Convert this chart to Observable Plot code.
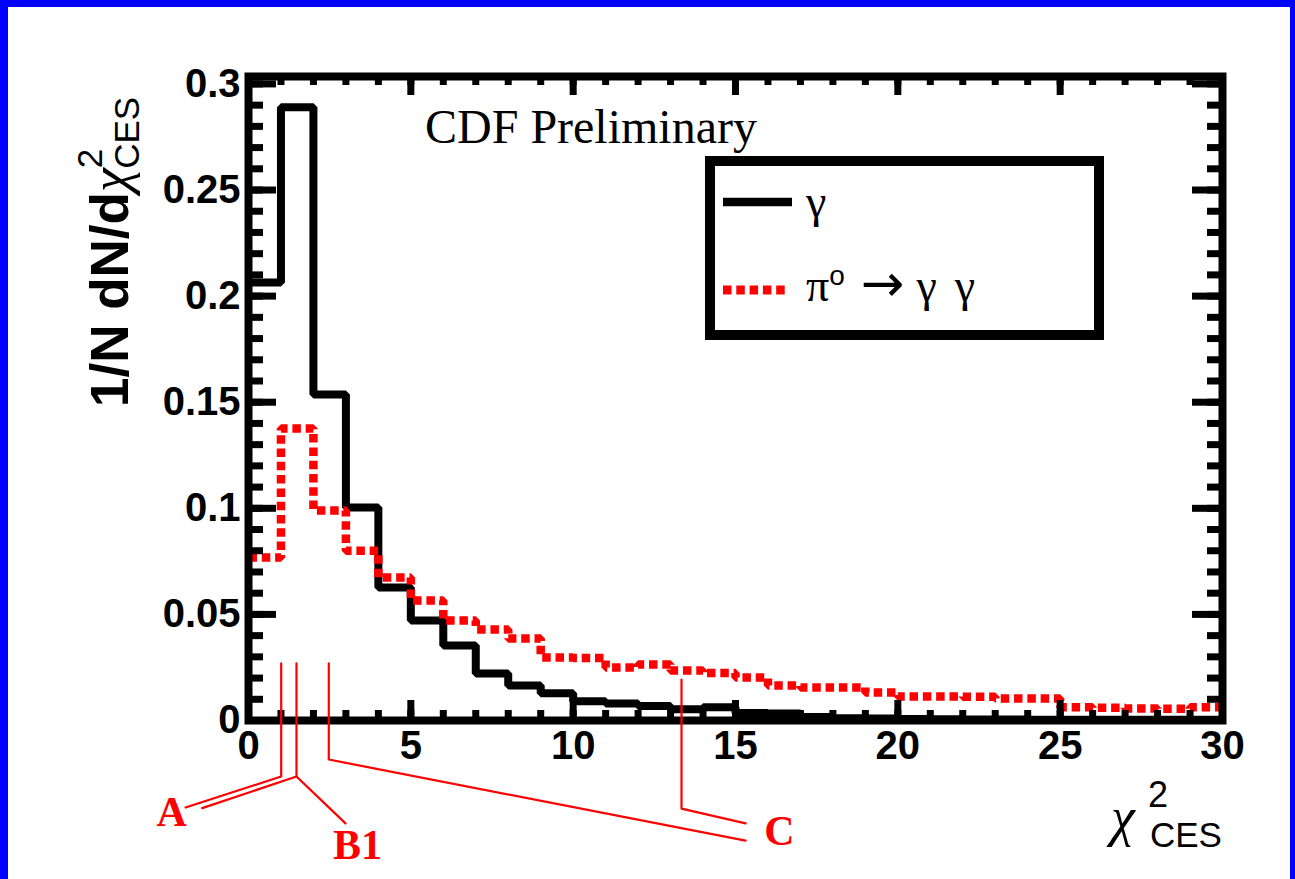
<!DOCTYPE html>
<html><head><meta charset="utf-8">
<script src="https://cdn.jsdelivr.net/npm/d3@7"></script>
<script src="https://cdn.jsdelivr.net/npm/@observablehq/plot@0.6"></script>
<style>
html,body{margin:0;padding:0;background:#fff;}
#wrap{position:relative;width:1295px;height:879px;overflow:hidden;background:#fff;}
.bd{position:absolute;background:#0000ff;}
</style></head><body>
<div id="wrap"></div>
<script>
// ---- data ----
const binLow = [0,1,2,3,4,5,6,7,8,9,10,11,12,13,14,15,16,17,18,19,20,21,22,23,24,25,26,27,28,29];
const binHighLast = 30;
const gamma = [0.2064,0.2890,0.1536,0.1004,0.0627,0.0471,0.0353,0.0221,0.0165,0.0129,
               0.0091,0.0080,0.0068,0.0053,0.0063,0.0035,0.0033,0.0017,0.0011,0.0009,
               0.0007,0.0006,0.0005,0.0005,0.0004,0.0004,0.0003,0.0003,0.0003,0.0003];
const pi0   = [0.0768,0.1376,0.0990,0.0800,0.0674,0.0566,0.0471,0.0429,0.0386,0.0297,
               0.0295,0.0250,0.0264,0.0236,0.0224,0.0203,0.0165,0.0156,0.0156,0.0132,
               0.0113,0.0113,0.0112,0.0104,0.0104,0.0062,0.0060,0.0057,0.0055,0.0062];
const xMajor = [0,5,10,15,20,25,30];
const xMinor = [0,1,2,3,4,5,6,7,8,9,10,11,12,13,14,15,16,17,18,19,20,21,22,23,24,25,26,27,28,29,30];
const yMajor = [0,0.05,0.1,0.15,0.2,0.25,0.3];
const yMinor = [0,0.01,0.02,0.03,0.04,0.05,0.06,0.07,0.08,0.09,0.1,0.11,0.12,0.13,0.14,0.15,0.16,0.17,0.18,0.19,
                0.2,0.21,0.22,0.23,0.24,0.25,0.26,0.27,0.28,0.29,0.3];
const seriesNames = ["\u03b3", "\u03c0"];
// annotation leaders (chi2, 1/N dN/dchi2 units)
const leaderA  = [[1.007,0.0269],[1.007,-0.0264],[-1.94,-0.0410]];
const leaderB  = [[1.478,0.0269],[1.478,-0.0264],[-1.426,-0.0413]];
const leaderB1 = [[1.478,-0.0264],[2.988,-0.0485]];
const leaderC1 = [[2.473,0.0269],[2.473,-0.0184],[15.31,-0.0566]];
const leaderC2 = [[13.337,0.0193],[13.337,-0.0415],[15.31,-0.0485]];
const annotLabels = [{t:"A",x:-2.37,y:-0.0434},{t:"B1",x:3.36,y:-0.0589},{t:"C",x:16.35,y:-0.0523}];

// ---- build ----
const toSteps = vals => binLow.map((x,i)=>({x, y: vals[i]})).concat([{x: binHighLast, y: vals[vals.length-1]}]);
const gPts = toSteps(gamma), pPts = toSteps(pi0);
const leaders = [leaderA, leaderB, leaderB1, leaderC1, leaderC2].flatMap((l,k)=>l.map(([x,y])=>({x,y,k})));

const W = 1295, H = 879, mL = 248, mR = 73, mT = 76, mB = 159;
const iw = W - mL - mR, ih = H - mT - mB;
const sans = "Liberation Sans, Arial, Helvetica, sans-serif";
const serif = "Liberation Serif, Times New Roman, serif";

const plot = Plot.plot({
  width: W, height: H,
  marginLeft: mL, marginRight: mR, marginTop: mT, marginBottom: mB,
  x: {domain: [0, 30]},
  y: {domain: [0, 0.3035]},
  style: {background: "white", fontFamily: sans, overflow: "visible"},
  marks: [
    Plot.line(gPts, {x:"x", y:"y", curve:"step-after", stroke:"black", strokeWidth:8, strokeLinejoin:"miter", strokeLinecap:"butt"}),
    Plot.line(pPts, {x:"x", y:"y", curve:"step-after", stroke:"#ff0000", strokeWidth:8.5, strokeDasharray:"8.5,4.8", strokeLinejoin:"miter", strokeLinecap:"butt"}),
    // ticks inside the frame
    Plot.tickX(xMinor, {x: d=>d, insetTop: ih-10, stroke:"black", strokeWidth:7}),
    Plot.tickX(xMajor, {x: d=>d, insetTop: ih-20, stroke:"black", strokeWidth:7}),
    Plot.tickX(xMinor, {x: d=>d, insetBottom: ih-9, stroke:"black", strokeWidth:7}),
    Plot.tickX(xMajor, {x: d=>d, insetBottom: ih-19, stroke:"black", strokeWidth:7}),
    Plot.tickY(yMinor, {y: d=>d, insetRight: iw-15, stroke:"black", strokeWidth:7}),
    Plot.tickY(yMajor, {y: d=>d, insetRight: iw-28, stroke:"black", strokeWidth:7}),
    Plot.tickY(yMinor, {y: d=>d, insetLeft: iw-15, stroke:"black", strokeWidth:7}),
    Plot.tickY(yMajor, {y: d=>d, insetLeft: iw-30, stroke:"black", strokeWidth:7}),
    Plot.frame({stroke:"black", strokeWidth:8}),
    Plot.axisX(xMajor, {tickSize:0, tickPadding:10, fontSize:40, fontWeight:"bold", fontFamily: sans, label:null, tickFormat: d=>String(d)}),
    Plot.axisY(yMajor, {anchor:"left", tickSize:0, tickPadding:8, fontSize:40, fontWeight:"bold", fontFamily: sans, label:null, tickFormat: d=>String(+d.toFixed(2))}),
    // annotations
    Plot.line(leaders, {x:"x", y:"y", z:"k", stroke:"#ff0000", strokeWidth:2.2, curve:"linear"}),
    Plot.text(annotLabels, {x:"x", y:"y", text:"t", fill:"#ff0000", fontSize:42, fontWeight:"bold", fontFamily: serif, textAnchor:"middle", lineAnchor:"middle"})
  ]
});

const svg = d3.select(plot);
const txt = (sel) => sel.append("text").attr("text-anchor","start").attr("fill","black");
// y title
const yt = txt(svg).attr("transform","translate(128,407) rotate(-90)").attr("font-family", sans);
yt.append("tspan").attr("font-size",53).attr("font-weight","bold").text("1/N dN/d");
yt.append("tspan").attr("font-family",serif).attr("font-style","italic").attr("font-size",54).text("\u03c7");
yt.append("tspan").attr("font-size",35).attr("dy",-26).text("2");
yt.append("tspan").attr("font-size",35).attr("dx",-20).attr("dy",37).text("CES");
// x title
txt(svg).attr("x",1111).attr("y",835).attr("font-family",serif).attr("font-style","italic").attr("font-size",54).text("\u03c7");
txt(svg).attr("x",1148).attr("y",807).attr("font-family",sans).attr("font-size",36).text("2");
txt(svg).attr("x",1150).attr("y",847).attr("font-family",sans).attr("font-size",35).text("CES");
// preliminary label
txt(svg).attr("x",425).attr("y",143).attr("font-family",serif).attr("font-size",48).text("CDF Preliminary");
// legend
const lg = svg.append("g");
lg.append("rect").attr("x",710).attr("y",161).attr("width",389).attr("height",174).attr("fill","white").attr("stroke","black").attr("stroke-width",10);
lg.append("line").attr("x1",723).attr("x2",792).attr("y1",202).attr("y2",202).attr("stroke","black").attr("stroke-width",8.5);
lg.append("line").attr("x1",723).attr("x2",788).attr("y1",290).attr("y2",290).attr("stroke","#ff0000").attr("stroke-width",9).attr("stroke-dasharray","8.5,4.8");
txt(lg).attr("x",806).attr("y",217).attr("font-family",serif).attr("font-size",46).text(seriesNames[0]);
const t2 = txt(lg).attr("x",806).attr("y",301).attr("font-family",serif).attr("font-size",46);
t2.append("tspan").text(seriesNames[1]);
t2.append("tspan").attr("font-size",28).attr("dy",-16).attr("font-family",sans).text("o");
t2.append("tspan").attr("dy",16).attr("dx",16).attr("font-family","DejaVu Sans, sans-serif").attr("font-size",52).text("\u2192");
t2.append("tspan").attr("dx",12).text("\u03b3");
t2.append("tspan").attr("dx",18).text("\u03b3");

const wrap = document.getElementById("wrap");
wrap.appendChild(plot);
plot.style.position = "absolute"; plot.style.left = "0px"; plot.style.top = "0px";
[["0px","0px","1295px","7px"],["0px","0px","8px","879px"]].forEach(([l,t,w,h])=>{
  const d = document.createElement("div"); d.className="bd";
  d.style.left=l; d.style.top=t; d.style.width=w; d.style.height=h; wrap.appendChild(d);
});
const r = document.createElement("div"); r.className="bd";
r.style.right="0px"; r.style.top="0px"; r.style.width="5px"; r.style.height="879px"; wrap.appendChild(r);
</script>
</body></html>
